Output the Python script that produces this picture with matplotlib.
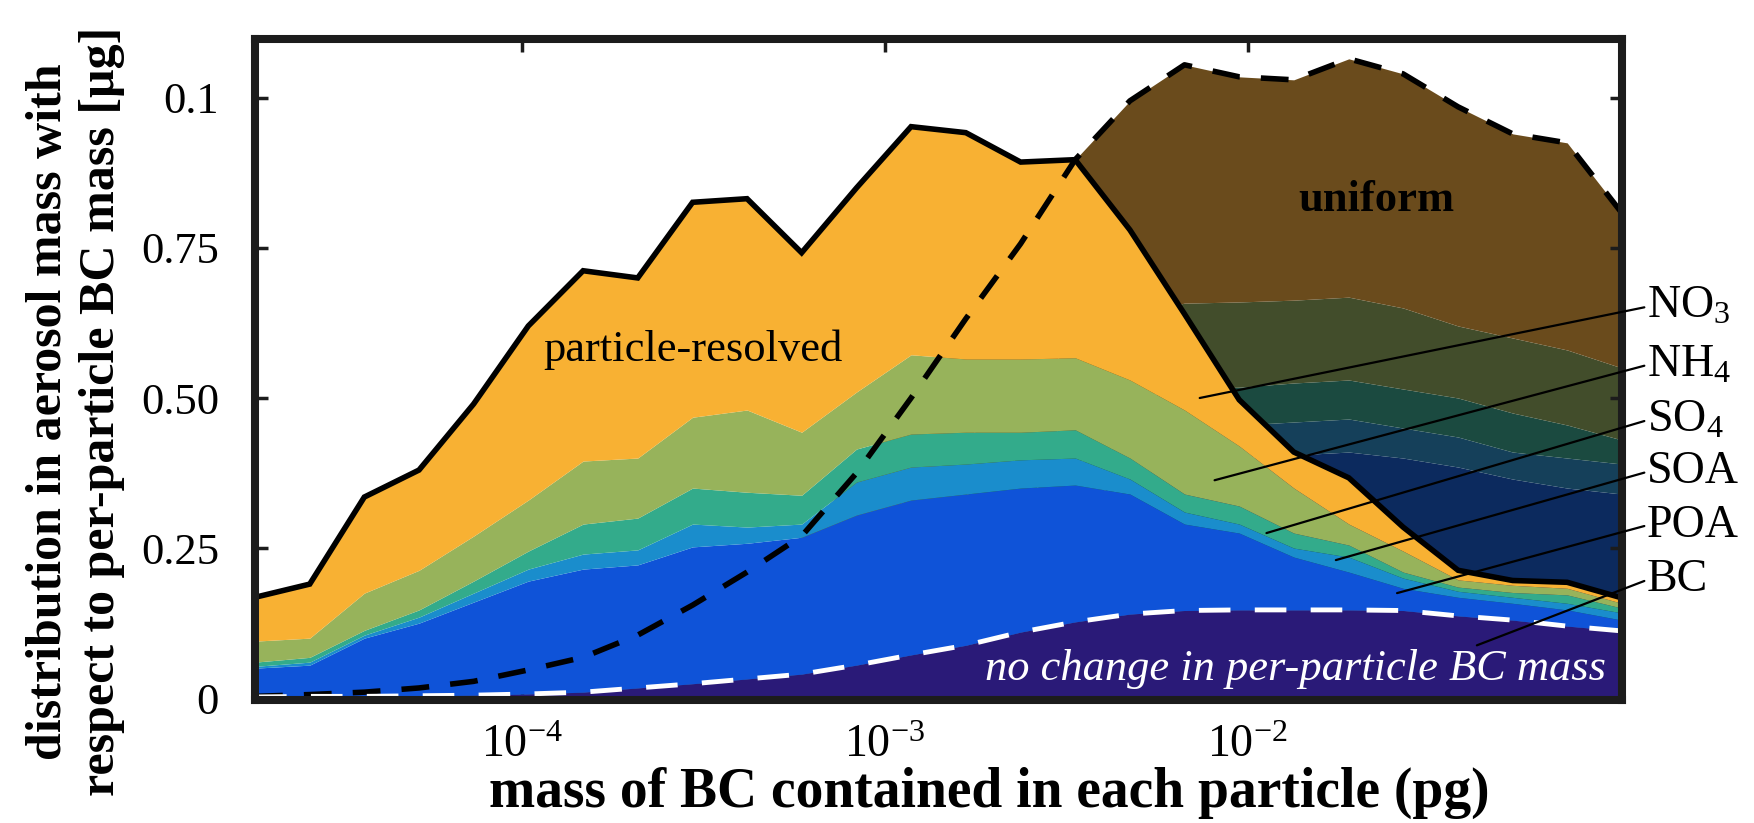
import numpy as np
import matplotlib.pyplot as plt
from matplotlib.ticker import FixedLocator, FixedFormatter, NullLocator

plt.rcParams['font.family'] = ['Liberation Serif', 'DejaVu Serif']
plt.rcParams['mathtext.fontset'] = 'custom'
plt.rcParams['mathtext.rm'] = 'Liberation Serif'
plt.rcParams['mathtext.it'] = 'Liberation Serif:italic'
plt.rcParams['mathtext.bf'] = 'Liberation Serif:bold'

# BC mass contained in each particle (pg), bin centres
bc_mass = [1.845e-5, 2.61e-5, 3.69e-5, 5.22e-5, 7.38e-5, 1.044e-4, 1.478e-4,
           2.09e-4, 2.96e-4, 4.18e-4, 5.91e-4, 8.37e-4, 1.183e-3, 1.674e-3,
           2.37e-3, 3.35e-3, 4.74e-3, 6.70e-3, 9.48e-3, 1.34e-2, 1.90e-2,
           2.68e-2, 3.80e-2, 5.37e-2, 7.59e-2, 1.074e-1]

# BC (same in both cases: no change in per-particle BC mass)
bc_top = [0.002, 0.003, 0.003, 0.004, 0.005, 0.007, 0.010, 0.017, 0.024, 0.032,
          0.040, 0.055, 0.072, 0.088, 0.110, 0.127, 0.140, 0.146, 0.147, 0.147,
          0.147, 0.146, 0.137, 0.130, 0.120, 0.112]

# particle-resolved, cumulative tops of each species
pr_poa = [0.050, 0.055, 0.100, 0.125, 0.160, 0.195, 0.215, 0.222, 0.252, 0.258,
          0.268, 0.305, 0.330, 0.340, 0.350, 0.355, 0.340, 0.290, 0.275, 0.235,
          0.210, 0.183, 0.168, 0.158, 0.147, 0.130]
pr_soa = [0.053, 0.060, 0.105, 0.135, 0.175, 0.215, 0.240, 0.247, 0.290, 0.285,
          0.290, 0.360, 0.385, 0.390, 0.397, 0.400, 0.365, 0.310, 0.290, 0.250,
          0.235, 0.200, 0.178, 0.168, 0.158, 0.142]
pr_so4 = [0.060, 0.068, 0.113, 0.147, 0.195, 0.245, 0.290, 0.300, 0.350, 0.343,
          0.338, 0.415, 0.440, 0.443, 0.443, 0.447, 0.400, 0.340, 0.320, 0.275,
          0.255, 0.210, 0.185, 0.176, 0.172, 0.150]
pr_nh4 = [0.095, 0.100, 0.175, 0.213, 0.270, 0.330, 0.395, 0.400, 0.468, 0.480,
          0.443, 0.510, 0.572, 0.565, 0.565, 0.567, 0.530, 0.480, 0.420, 0.350,
          0.290, 0.245, 0.197, 0.188, 0.183, 0.158]
pr_total = [0.168, 0.190, 0.335, 0.380, 0.490, 0.620, 0.712, 0.700, 0.826, 0.832,
            0.742, 0.850, 0.952, 0.942, 0.893, 0.897, 0.780, 0.640, 0.497, 0.410,
            0.367, 0.285, 0.213, 0.196, 0.193, 0.167]

# uniform composition, cumulative tops of each species
un_poa = [0.0022, 0.0035, 0.0045, 0.0065, 0.010, 0.016, 0.023, 0.035, 0.053, 0.072,
          0.092, 0.130, 0.175, 0.220, 0.270, 0.320, 0.370, 0.390, 0.400, 0.405,
          0.410, 0.400, 0.385, 0.365, 0.350, 0.340]
un_soa = [0.0024, 0.004, 0.0055, 0.008, 0.013, 0.021, 0.030, 0.046, 0.068, 0.092,
          0.118, 0.165, 0.220, 0.280, 0.335, 0.390, 0.430, 0.450, 0.455, 0.460,
          0.465, 0.450, 0.435, 0.410, 0.400, 0.390]
un_so4 = [0.0026, 0.0045, 0.0065, 0.0095, 0.016, 0.026, 0.037, 0.056, 0.083, 0.112,
          0.143, 0.200, 0.268, 0.338, 0.405, 0.465, 0.500, 0.515, 0.518, 0.525,
          0.530, 0.515, 0.500, 0.475, 0.455, 0.430]
un_nh4 = [0.0028, 0.005, 0.008, 0.013, 0.021, 0.033, 0.048, 0.072, 0.106, 0.143,
          0.183, 0.255, 0.340, 0.430, 0.515, 0.590, 0.640, 0.658, 0.660, 0.663,
          0.668, 0.650, 0.620, 0.600, 0.580, 0.550]
un_total = [0.003, 0.006, 0.010, 0.017, 0.028, 0.047, 0.068, 0.105, 0.155, 0.210,
            0.270, 0.375, 0.500, 0.632, 0.757, 0.897, 0.995, 1.055, 1.035, 1.030,
            1.065, 1.040, 0.985, 0.940, 0.925, 0.808]

pr_colors = ['#2a1a78', '#0f53d8', '#1a8dcc', '#33ab8b', '#97b35b', '#f8b133']
un_colors = ['#2a1a78', '#0c2a5e', '#15405a', '#1b4a40', '#424d2b', '#6a4b1c']

# leader line ends (mass, value) and label heights
label_tips = [(7.38e-3, 0.50), (8.11e-3, 0.363), (1.127e-2, 0.275),
              (1.75e-2, 0.23), (2.58e-2, 0.175), (4.28e-2, 0.088)]
label_y = [0.652, 0.555, 0.463, 0.377, 0.288, 0.197]
label_names = ['NO$_3$', 'NH$_4$', 'SO$_4$', 'SOA', 'POA', 'BC']

fig = plt.figure(figsize=(17.54, 8.23), dpi=100)
ax = fig.add_axes([0.1454, 0.1495, 0.7793, 0.8031])

x = np.array(bc_mass)
zero = np.zeros_like(x)
un_layers = [zero, bc_top, un_poa, un_soa, un_so4, un_nh4, un_total]
pr_layers = [zero, bc_top, pr_poa, pr_soa, pr_so4, pr_nh4, pr_total]

# uniform stack underneath, particle-resolved stack on top of it
for k in range(6):
    ax.fill_between(x, un_layers[k], un_layers[k + 1], color=un_colors[k],
                    lw=0, zorder=1)
for k in range(6):
    ax.fill_between(x, pr_layers[k], pr_layers[k + 1], color=pr_colors[k],
                    lw=0, zorder=2)

ax.plot(x, pr_total, color='black', lw=4, solid_joinstyle='miter', zorder=4)
ax.plot(x, un_total, color='black', lw=4, ls=(0, (5, 3.8)), zorder=5)
ax.plot(x, bc_top, color='white', lw=3.5, ls=(0, (6.5, 5)), zorder=5)

ax.set_xscale('log')
ax.set_xlim(bc_mass[0], bc_mass[-1])
ax.set_ylim(-0.003, 1.098)

ax.xaxis.set_major_locator(FixedLocator([1e-4, 1e-3, 1e-2]))
ax.xaxis.set_major_formatter(FixedFormatter(['10$^{-4}$', '10$^{-3}$', '10$^{-2}$']))
ax.xaxis.set_minor_locator(NullLocator())
ax.yaxis.set_major_locator(FixedLocator([0, 0.25, 0.5, 0.75, 1.0]))
ax.yaxis.set_major_formatter(FixedFormatter(['0', '0.25', '0.50', '0.75', '0.1']))

ax.tick_params(direction='in', length=9, width=2.5, color='#1c1c1c',
               top=True, right=True, labelsize=33)
ax.tick_params(axis='y', pad=26, labelsize=32)
ax.tick_params(axis='x', pad=18)
for s in ax.spines.values():
    s.set_linewidth(5.8)
    s.set_color('#1c1c1c')
    s.set_zorder(6)

ax.text(2.96e-4, 0.58, 'particle-resolved', fontsize=32, ha='center',
        va='center', zorder=7)
ax.text(2.27e-2, 0.83, 'uniform', fontsize=32, fontweight='bold',
        ha='center', va='center', zorder=7)
ax.text(1.355e-2, 0.048, 'no change in per-particle BC mass', fontsize=32,
        style='italic', color='white', ha='center', va='center', zorder=7)

for name, (tx, ty), ly in zip(label_names, label_tips, label_y):
    ax.annotate(name, xy=(tx, ty), xytext=(0.126, ly), textcoords='data',
                fontsize=33, ha='left', va='center', annotation_clip=False,
                arrowprops=dict(arrowstyle='-', color='black', lw=1.6,
                                shrinkA=0, shrinkB=0, relpos=(0, 0.5)),
                zorder=8)

fig.text(0.564, 0.02, 'mass of BC contained in each particle (pg)',
         fontsize=40, fontweight='bold', ha='center', va='baseline')
fig.text(0.043, 0.50, 'distribution in aerosol mass with\n'
         'respect to per-particle BC mass [μg]', fontsize=36,
         fontweight='bold', rotation=90, ha='center', va='center',
         multialignment='center', linespacing=1.2)

fig.savefig('out.png', dpi=100)
